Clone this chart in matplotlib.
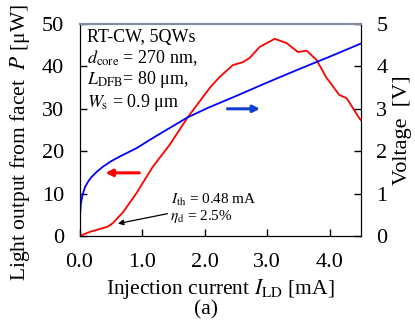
import matplotlib
matplotlib.use("Agg")
import matplotlib.pyplot as plt

plt.rcParams['font.family'] = ['Liberation Serif', 'DejaVu Serif']
plt.rcParams['mathtext.fontset'] = 'stix'

# light output (red) vs current
i_p = [0.0, 0.17, 0.45, 0.53, 0.70, 0.91, 1.17, 1.44, 1.73, 2.08, 2.24, 2.45, 2.61, 2.72,
       2.88, 3.12, 3.31, 3.49, 3.63, 3.79, 3.94, 4.15, 4.27, 4.36, 4.47, 4.5]
p_uw = [0.0, 1.0, 2.2, 3.0, 5.7, 10.1, 16.3, 21.5, 28.0, 34.9, 37.5, 40.3, 41.0, 42.0,
        44.6, 46.5, 45.5, 43.4, 43.7, 41.5, 37.5, 33.3, 32.5, 30.4, 27.8, 27.3]

# voltage (blue) vs current
i_v = [0.0, 0.01, 0.02, 0.05, 0.09, 0.14, 0.19, 0.28, 0.37, 0.50, 0.65, 0.91, 1.17, 1.33,
       1.73, 2.08, 2.5, 3.0, 3.5, 4.0, 4.5]
volt = [0.0, 0.50, 0.75, 0.98, 1.16, 1.29, 1.39, 1.52, 1.63, 1.76, 1.88, 2.07, 2.31, 2.45,
        2.80, 3.04, 3.30, 3.62, 3.93, 4.23, 4.54]

xticks = [0, 1, 2, 3, 4]
xticklabels = ["0.0", "1.0", "2.0", "3.0", "4.0"]

fig = plt.figure(figsize=(4.15, 3.22), dpi=100)
ax = fig.add_axes([0.1916, 0.267, 0.6784, 0.6585])
ax2 = ax.twinx()

ax.plot(i_p, p_uw, color="red", lw=1.3)
ax2.plot(i_v, volt, color="blue", lw=1.3)

ax.set_xlim(0, 4.5)
ax.set_ylim(0, 50)
ax2.set_ylim(0, 5)
ax.set_xticks(xticks)
ax.set_xticklabels(xticklabels)
ax.set_yticks([0, 10, 20, 30, 40, 50])
ax2.set_yticks([0, 1, 2, 3, 4, 5])

for a in (ax, ax2):
    a.tick_params(direction="in", length=5, width=1, labelsize=16, pad=11)
    a.spines["top"].set_color("#7f8ca3")
    a.spines["top"].set_linewidth(1.5)
ax.tick_params(axis="x", pad=12)

ax.set_xlabel(r"Injection current $I_{\rm LD}$ [mA]", fontsize=15.5)
ax.set_ylabel(r"Light output from facet  $P$ [μW]", fontsize=15.5)
ax2.set_ylabel("Voltage  [V]", fontsize=16)
ax.xaxis.set_label_coords(0.5, -0.195)
ax.yaxis.set_label_coords(-0.168, 0.44)
ax2.yaxis.set_label_coords(1.112, 0.5)
fig.text(0.496, 0.008, "(a)", ha="center", va="bottom", fontsize=15.5)

# direction arrows
ax.annotate("", xy=(0.37, 14.9), xytext=(1.0, 14.9),
            arrowprops=dict(arrowstyle="-|>", color="red", lw=2.2, mutation_scale=10))
ax2.annotate("", xy=(2.93, 3.0), xytext=(2.32, 3.0),
             arrowprops=dict(arrowstyle="-|>", color="#1040d0", lw=2.2, mutation_scale=10))

# threshold annotation
ax.annotate("", xy=(0.57, 2.8), xytext=(1.45, 5.4),
            arrowprops=dict(arrowstyle="-|>", color="black", lw=0.9, mutation_scale=8))
ax.text(1.46, 8.5, r"$I_{\rm th}$ = 0.48 mA", fontsize=11, va="center")
ax.text(1.44, 4.6, r"$\eta_{\rm d}$ = 2.5%", fontsize=11, va="center")

ax.text(0.12, 48.8, "RT-CW, 5QWs\n"
        r"$d_{\rm core}$ = 270 nm," "\n"
        r"$L_{\rm DFB}$= 80 μm," "\n"
        r"$W_{\rm s}$ = 0.9 μm",
        fontsize=13, va="top", linespacing=1.12)

fig.savefig("out.png", dpi=100)
